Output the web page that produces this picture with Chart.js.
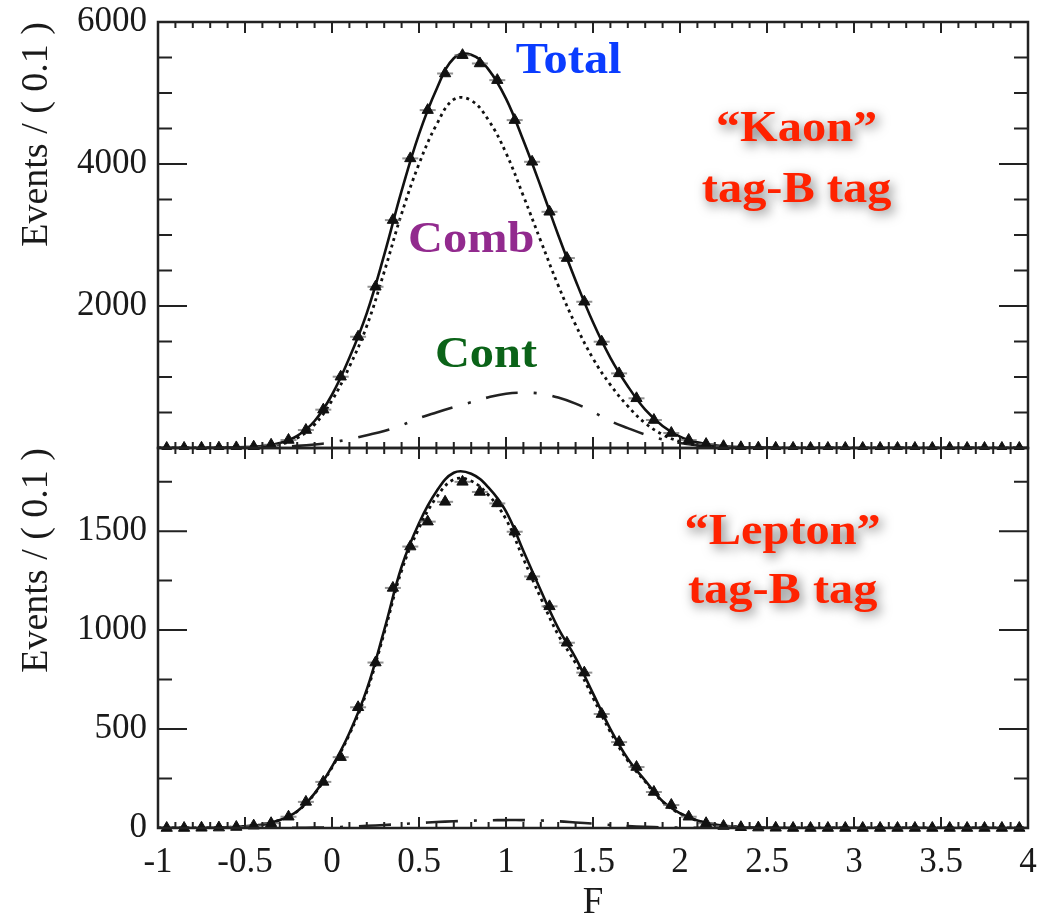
<!DOCTYPE html>
<html>
<head>
<meta charset="utf-8">
<title>F distribution - Kaon / Lepton tag</title>
<script src="https://cdn.jsdelivr.net/npm/chart.js@4.4.1/dist/chart.umd.min.js"></script>
<style>
  html, body { margin: 0; padding: 0; background: #fff; }
  #wrap { position: relative; width: 1037px; height: 918px; overflow: hidden; }
  #topChart { position: absolute; left: 0; top: 0; }
  #bottomChart { position: absolute; left: 0; top: 440px; }
</style>
</head>
<body>
<div id="wrap">
  <canvas id="topChart" width="1037" height="450"></canvas>
  <canvas id="bottomChart" width="1037" height="478"></canvas>
</div>
<script>
//* DATA *//
// bin centres of the measured points (F)
let binCentres = [-0.95, -0.85, -0.75, -0.65, -0.55, -0.45, -0.35, -0.25, -0.15, -0.05,
  0.05, 0.15, 0.25, 0.35, 0.45, 0.55, 0.65, 0.75, 0.85, 0.95,
  1.05, 1.15, 1.25, 1.35, 1.45, 1.55, 1.65, 1.75, 1.85, 1.95,
  2.05, 2.15, 2.25, 2.35, 2.45, 2.55, 2.65, 2.75, 2.85, 2.95,
  3.05, 3.15, 3.25, 3.35, 3.45, 3.55, 3.65, 3.75, 3.85, 3.95];

let curveF = [-1.0, -0.9, -0.8, -0.7, -0.6, -0.5, -0.4, -0.3, -0.2, -0.1,
  0.0, 0.1, 0.2, 0.3, 0.4, 0.5, 0.6, 0.7, 0.8, 0.9,
  1.0, 1.1, 1.2, 1.3, 1.4, 1.5, 1.6, 1.7, 1.8, 1.9,
  2.0, 2.1, 2.2, 2.3, 2.4, 2.5, 2.6, 2.7, 2.8, 2.9,
  3.0, 3.1, 3.2, 3.3, 3.4, 3.5, 3.6, 3.7, 3.8, 3.9, 4.0];

// "Kaon" tag panel
let kaonData = [0, 1, 2, 4, 8, 18, 45, 113, 253, 540,
  1004, 1567, 2271, 3210, 4079, 4759, 5275, 5533, 5416, 5181,
  4618, 4031, 3327, 2675, 2060, 1497, 1051, 700, 394, 211,
  113, 55, 25, 10, 4, 2, 1, 0, 0, 0,
  0, 0, 0, 0, 0, 0, 0, 0, 0, 0];
let kaonTotal = [0, 0, 1, 2, 5, 12, 28, 70, 170, 380,
  750, 1270, 1900, 2720, 3620, 4420, 5050, 5490, 5540, 5330,
  4920, 4330, 3680, 3000, 2360, 1770, 1270, 870, 540, 310,
  160, 80, 38, 17, 7, 3, 1, 0, 0, 0,
  0, 0, 0, 0, 0, 0, 0, 0, 0, 0, 0];
let kaonComb = [0, 0, 0, 1, 3, 8, 20, 52, 140, 330,
  670, 1145, 1720, 2480, 3300, 4000, 4550, 4910, 4895, 4615,
  4155, 3550, 2915, 2290, 1735, 1260, 890, 590, 350, 190,
  90, 40, 18, 7, 2, 1, 0, 0, 0, 0,
  0, 0, 0, 0, 0, 0, 0, 0, 0, 0, 0];
let kaonCont = [0, 0, 0, 1, 2, 5, 10, 18, 30, 50,
  80, 125, 180, 240, 320, 420, 500, 575, 645, 715,
  765, 780, 765, 710, 625, 510, 380, 280, 190, 120,
  70, 40, 20, 10, 5, 2, 1, 0, 0, 0,
  0, 0, 0, 0, 0, 0, 0, 0, 0, 0, 0];

// "Lepton" tag panel
let leptonData = [0, 0, 1, 2, 5, 12, 24, 57, 132, 233,
  358, 610, 836, 1213, 1422, 1548, 1648, 1749, 1698, 1640,
  1497, 1271, 1120, 936, 785, 576, 434, 308, 182, 116,
  57, 24, 10, 4, 2, 1, 0, 0, 0, 0,
  0, 0, 0, 0, 0, 0, 0, 0, 0, 0];
let leptonTotal = [0, 0, 0, 1, 3, 8, 18, 40, 85, 175,
  310, 480, 700, 1000, 1320, 1540, 1700, 1795, 1790, 1720,
  1600, 1400, 1200, 1010, 860, 680, 500, 350, 240, 135,
  75, 38, 17, 7, 3, 1, 0, 0, 0, 0,
  0, 0, 0, 0, 0, 0, 0, 0, 0, 0, 0];
let leptonComb = [0, 0, 0, 1, 3, 8, 18, 40, 84, 173,
  306, 473, 689, 985, 1300, 1515, 1670, 1761, 1753, 1681,
  1560, 1360, 1162, 976, 832, 658, 485, 340, 234, 132,
  73, 37, 17, 7, 3, 1, 0, 0, 0, 0,
  0, 0, 0, 0, 0, 0, 0, 0, 0, 0, 0];
let leptonCont = [0, 0, 0, 0, 0, 0, 0, 0, 1, 2,
  4, 7, 11, 15, 20, 25, 30, 34, 37, 39,
  40, 40, 38, 34, 28, 22, 15, 10, 6, 3,
  2, 1, 0, 0, 0, 0, 0, 0, 0, 0,
  0, 0, 0, 0, 0, 0, 0, 0, 0, 0, 0];

// tick labels
let xTicks = [-1, -0.5, 0, 0.5, 1, 1.5, 2, 2.5, 3, 3.5, 4];
let kaonYTicks = [2000, 4000, 6000];
let leptonYTicks = [0, 500, 1000, 1500];

// text notes (placed in data units)
let kaonNotes = [
  { text: 'Total', f: 1.36, v: 5280, color: '#0a3cff' },
  { text: '\u201cKaon\u201d', f: 2.67, v: 4330, color: '#ff2200', shadow: true },
  { text: 'tag-B tag', f: 2.67, v: 3470, color: '#ff2200', shadow: true },
  { text: 'Comb', f: 0.80, v: 2760, color: '#922a8e' },
  { text: 'Cont', f: 0.885, v: 1140, color: '#0b6318' }
];
let leptonNotes = [
  { text: '\u201cLepton\u201d', f: 2.59, v: 1437, color: '#ff2200', shadow: true },
  { text: 'tag-B tag', f: 2.59, v: 1136, color: '#ff2200', shadow: true }
];

//* HELPERS *//
const SERIF = '"Liberation Serif", "Times New Roman", serif';

function toPoints(xs, ys) {
  let pts = [];
  for (let i = 0; i < xs.length; i++) {
    pts.push({ x: xs[i], y: ys[i] });
  }
  return pts;
}

// frame + inward ticks on all four sides
function makeFrame(yMax, yMajor, yMinor) {
  return {
    id: 'frameTicks',
    afterDatasetsDraw(chart) {
      const { ctx, chartArea: a, scales } = chart;
      const x = scales.x, y = scales.y;
      ctx.save();
      ctx.strokeStyle = '#222';
      ctx.lineWidth = 2;
      ctx.beginPath();
      for (let i = 0; i <= 50; i++) {
        const px = x.getPixelForValue(-1 + i * 0.1);
        const len = i % 5 === 0 ? 11 : 6;
        ctx.moveTo(px, a.top); ctx.lineTo(px, a.top + len);
        ctx.moveTo(px, a.bottom); ctx.lineTo(px, a.bottom - len);
      }
      for (let v = 0; v <= yMax; v += yMinor) {
        const py = y.getPixelForValue(v);
        const len = v % yMajor === 0 ? 29 : 14;
        ctx.moveTo(a.left, py); ctx.lineTo(a.left + len, py);
        ctx.moveTo(a.right, py); ctx.lineTo(a.right - len, py);
      }
      ctx.stroke();
      ctx.lineWidth = 2.5;
      ctx.strokeRect(a.left, a.top, a.right - a.left, a.bottom - a.top);
      ctx.restore();
    }
  };
}

function makeNotes(items) {
  return {
    id: 'notes',
    afterDatasetsDraw(chart) {
      const { ctx, scales } = chart;
      items.forEach(n => {
        ctx.save();
        ctx.translate(scales.x.getPixelForValue(n.f), scales.y.getPixelForValue(n.v));
        ctx.scale(1.1, 1);
        ctx.font = 'bold 44px ' + SERIF;
        ctx.textAlign = 'center';
        ctx.textBaseline = 'alphabetic';
        ctx.fillStyle = n.color;
        if (n.shadow) {
          ctx.shadowColor = 'rgba(0,0,0,0.55)';
          ctx.shadowBlur = 12;
          ctx.shadowOffsetX = 3;
          ctx.shadowOffsetY = 4;
        }
        ctx.fillText(n.text, 0, 0);
        ctx.restore();
      });
    }
  };
}

function makeDatasets(data, total, comb, cont) {
  return [
    {
      label: 'Data',
      data: toPoints(binCentres, data),
      showLine: false,
      pointStyle: 'triangle',
      pointRadius: 6.5,
      backgroundColor: '#111',
      borderColor: '#111',
      borderWidth: 1,
      clip: false
    },
    {
      label: 'Errors',
      data: toPoints(binCentres, data),
      showLine: false,
      pointStyle: 'line',
      pointRadius: 8,
      borderColor: 'rgba(110,110,110,0.75)',
      borderWidth: 2,
      clip: false
    },
    {
      label: 'Total',
      data: toPoints(curveF, total),
      borderColor: '#111',
      borderWidth: 2.6,
      pointRadius: 0,
      tension: 0.4
    },
    {
      label: 'Comb',
      data: toPoints(curveF, comb),
      borderColor: '#111',
      borderWidth: 2.8,
      borderDash: [3, 4],
      pointRadius: 0,
      tension: 0.4
    },
    {
      label: 'Cont',
      data: toPoints(curveF, cont),
      borderColor: '#222',
      borderWidth: 2.6,
      borderDash: [32, 16, 3, 16],
      pointRadius: 0,
      tension: 0.4
    }
  ];
}

function yAxis(max, tickList) {
  return {
    type: 'linear',
    min: 0,
    max: max,
    afterBuildTicks: s => { s.ticks = tickList.map(v => ({ value: v })); },
    afterFit: s => { s.width = 158; s.paddingTop = 0; s.paddingBottom = 0; },
    grid: { display: false, drawTicks: false },
    border: { display: false },
    ticks: { color: '#1a1a1a', padding: 11, font: { family: SERIF, size: 35 }, callback: v => String(v) },
    title: {
      display: true,
      text: 'Events / ( 0.1 )',
      align: 'end',
      color: '#1a1a1a',
      padding: { top: 14, bottom: 0 },
      font: { family: SERIF, size: 38 }
    }
  };
}

//* CHARTS *//
new Chart(document.getElementById('topChart'), {
  type: 'line',
  data: { datasets: makeDatasets(kaonData, kaonTotal, kaonComb, kaonCont) },
  options: {
    responsive: false,
    animation: false,
    layout: { autoPadding: false, padding: { top: 22, right: 9, bottom: 2, left: 0 } },
    plugins: { legend: { display: false }, tooltip: { enabled: false } },
    scales: {
      x: { type: 'linear', min: -1, max: 4, display: false },
      y: yAxis(6000, kaonYTicks)
    }
  },
  plugins: [makeFrame(6000, 2000, 500), makeNotes(kaonNotes)]
});

new Chart(document.getElementById('bottomChart'), {
  type: 'line',
  data: { datasets: makeDatasets(leptonData, leptonTotal, leptonComb, leptonCont) },
  options: {
    responsive: false,
    animation: false,
    layout: { autoPadding: false, padding: { top: 8, right: 9, bottom: 0, left: 0 } },
    plugins: { legend: { display: false }, tooltip: { enabled: false } },
    scales: {
      x: {
        type: 'linear',
        min: -1,
        max: 4,
        afterBuildTicks: s => { s.ticks = xTicks.map(v => ({ value: v })); },
        afterFit: s => { s.height = 90; s.paddingLeft = 0; s.paddingRight = 0; },
        grid: { display: false, drawTicks: false },
        border: { display: false },
        ticks: {
          color: '#1a1a1a',
          padding: 14,
          maxRotation: 0,
          autoSkip: false,
          font: { family: SERIF, size: 35 },
          callback: v => String(v)
        },
        title: {
          display: true,
          text: 'F',
          color: '#1a1a1a',
          padding: 0,
          font: { family: SERIF, size: 37, lineHeight: 0.8 }
        }
      },
      y: yAxis(1920, leptonYTicks)
    }
  },
  plugins: [makeFrame(1920, 500, 250), makeNotes(leptonNotes)]
});
</script>
</body>
</html>
